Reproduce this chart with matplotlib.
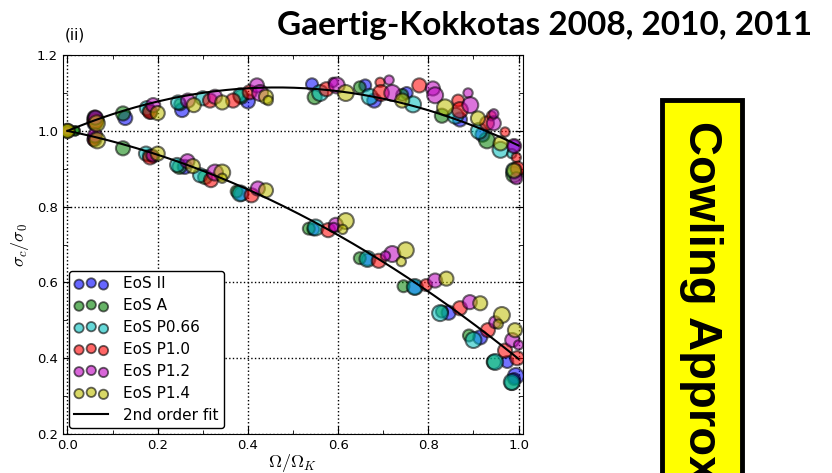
import numpy as np
import matplotlib.pyplot as plt
from matplotlib.patches import Rectangle
from matplotlib.ticker import MultipleLocator

plt.rcParams['mathtext.fontset'] = 'cm'

# (Omega/Omega_K, sigma_c/sigma_0, M) -- co-rotating (lower) and counter-rotating (upper) branches
eos_II_lo = [(0.0, 1.0, 1.4), (0.06, 0.978, 1.6), (0.19, 0.932, 1.4), (0.26, 0.905, 1.6), (0.385, 0.834, 1.6),
             (0.545, 0.74, 1.4), (0.665, 0.66, 1.4), (0.77, 0.587, 1.6), (0.845, 0.52, 1.6), (0.915, 0.455, 1.6),
             (0.975, 0.39, 1.4), (0.994, 0.353, 1.8), (0.99, 0.345, 1.4)]
eos_II_up = [(0.06, 1.02, 1.6), (0.128, 1.034, 1.6), (0.185, 1.048, 1.4), (0.254, 1.055, 1.6), (0.4, 1.078, 1.6),
             (0.542, 1.123, 1.4), (0.66, 1.12, 1.4), (0.68, 1.08, 1.6), (0.752, 1.10, 1.4), (0.87, 1.03, 1.6),
             (0.92, 0.99, 1.6), (0.99, 0.96, 1.4)]

eos_A_lo = [(0.017, 1.0, 1.2), (0.06, 0.982, 1.4), (0.123, 0.954, 1.6), (0.18, 0.935, 1.4), (0.248, 0.905, 1.6),
            (0.305, 0.878, 1.6), (0.375, 0.84, 1.4), (0.535, 0.742, 1.4), (0.648, 0.664, 1.4), (0.745, 0.59, 1.4),
            (0.83, 0.523, 1.4), (0.89, 0.46, 1.4), (0.945, 0.39, 1.6), (0.985, 0.335, 1.6)]
eos_A_up = [(0.017, 1.0, 1.2), (0.06, 1.035, 1.6), (0.123, 1.046, 1.6), (0.18, 1.052, 1.4), (0.25, 1.07, 1.4),
            (0.385, 1.09, 1.6), (0.548, 1.089, 1.6), (0.648, 1.115, 1.4), (0.742, 1.095, 1.4), (0.83, 1.04, 1.6),
            (0.93, 0.975, 1.8), (0.99, 0.885, 1.8)]

eos_P066_lo = [(0.0, 1.0, 1.2), (0.174, 0.94, 1.6), (0.243, 0.91, 1.6), (0.294, 0.883, 1.6), (0.383, 0.835, 1.8),
               (0.55, 0.745, 1.8), (0.665, 0.662, 1.8), (0.77, 0.588, 1.8), (0.826, 0.519, 1.8), (0.9, 0.448, 1.8),
               (0.948, 0.39, 1.8), (0.985, 0.337, 1.8)]
eos_P066_up = [(0.062, 1.03, 1.8), (0.176, 1.06, 1.6), (0.245, 1.075, 1.6), (0.30, 1.086, 1.6), (0.383, 1.094, 1.6),
               (0.56, 1.10, 1.8), (0.67, 1.09, 1.8), (0.766, 1.07, 1.8), (0.86, 1.04, 1.8), (0.912, 1.0, 1.8),
               (0.96, 0.95, 1.8), (0.985, 0.94, 1.2), (0.99, 0.895, 1.8)]

eos_P10_lo = [(0.0, 1.0, 1.2), (0.058, 0.976, 1.4), (0.183, 0.93, 1.6), (0.318, 0.87, 1.6), (0.408, 0.83, 1.6),
              (0.578, 0.738, 1.6), (0.69, 0.657, 1.6), (0.795, 0.593, 1.4), (0.87, 0.532, 1.6), (0.932, 0.474, 1.6),
              (0.97, 0.42, 1.6), (0.997, 0.40, 1.6)]
eos_P10_up = [(0.062, 1.025, 1.8), (0.183, 1.05, 1.6), (0.316, 1.08, 1.6), (0.367, 1.08, 1.6), (0.404, 1.102, 1.6),
              (0.574, 1.11, 1.6), (0.693, 1.128, 1.2), (0.695, 1.10, 1.8), (0.78, 1.12, 1.6), (0.866, 1.08, 1.4),
              (0.87, 1.055, 1.8), (0.93, 1.02, 1.6), (0.94, 1.04, 1.2), (0.97, 0.997, 1.2), (0.995, 0.93, 1.2),
              (0.998, 0.9, 1.6)]

eos_P12_lo = [(0.0, 1.0, 1.2), (0.061, 0.988, 1.6), (0.188, 0.935, 1.4), (0.266, 0.92, 1.6), (0.327, 0.89, 1.8),
              (0.422, 0.848, 1.6), (0.595, 0.752, 1.6), (0.59, 0.745, 1.2), (0.72, 0.675, 1.8), (0.705, 0.67, 1.2),
              (0.815, 0.605, 1.6), (0.892, 0.548, 1.6), (0.948, 0.495, 1.4), (0.986, 0.448, 1.6), (1.0, 0.435, 1.2)]
eos_P12_up = [(0.062, 1.035, 1.6), (0.19, 1.068, 1.6), (0.267, 1.08, 1.6), (0.327, 1.09, 1.6), (0.42, 1.12, 1.6),
              (0.427, 1.10, 1.8), (0.589, 1.128, 1.2), (0.597, 1.12, 1.8), (0.713, 1.134, 1.2), (0.72, 1.10, 1.8),
              (0.81, 1.112, 1.6), (0.815, 1.094, 1.8), (0.888, 1.10, 1.2), (0.893, 1.068, 1.8), (0.945, 1.02, 1.6),
              (0.945, 1.045, 1.2), (0.99, 0.96, 1.6), (0.995, 0.875, 1.4)]

eos_P14_lo = [(0.0, 1.0, 1.6), (0.066, 0.975, 1.8), (0.2, 0.94, 1.6), (0.278, 0.907, 1.6), (0.343, 0.89, 1.8),
              (0.343, 0.875, 1.2), (0.44, 0.843, 1.6), (0.617, 0.762, 1.8), (0.61, 0.74, 1.2), (0.75, 0.685, 1.8),
              (0.74, 0.655, 1.2), (0.84, 0.61, 1.6), (0.915, 0.545, 1.6), (0.963, 0.514, 1.8), (0.955, 0.49, 1.2),
              (0.992, 0.474, 1.6)]
eos_P14_up = [(0.0, 1.0, 1.6), (0.065, 1.02, 1.8), (0.2, 1.047, 1.6), (0.28, 1.068, 1.6), (0.343, 1.075, 1.6),
              (0.44, 1.09, 1.6), (0.445, 1.08, 1.2), (0.617, 1.10, 1.8), (0.742, 1.08, 1.6), (0.837, 1.062, 1.8),
              (0.91, 1.033, 1.6), (0.96, 0.967, 1.6), (0.99, 0.895, 1.6)]

labels = ['EoS II', 'EoS A', 'EoS P0.66', 'EoS P1.0', 'EoS P1.2', 'EoS P1.4']
colors = ['b', 'g', 'c', 'r', 'm', 'y']
lower = [eos_II_lo, eos_A_lo, eos_P066_lo, eos_P10_lo, eos_P12_lo, eos_P14_lo]
upper = [eos_II_up, eos_A_up, eos_P066_up, eos_P10_up, eos_P12_up, eos_P14_up]

fig = plt.figure(figsize=(8.32, 4.73), dpi=100)
ax = fig.add_axes([0.0757, 0.0825, 0.553, 0.801])

for lab, col, lo, up in zip(labels, colors, lower, upper):
    for branch in (lo, up):
        d = np.array(branch)
        ax.scatter(d[:, 0], d[:, 1], s=45 + (d[:, 2] - 1.2) * 145, c=col, alpha=0.55,
                   edgecolors='k', linewidths=1.5, zorder=3)
    ax.scatter([], [], s=45, c=col, alpha=0.6, edgecolors='k', linewidths=1.3, label=lab)

# 2nd order fit through (0, 1)
xf = np.linspace(0, 1, 200)
for branch_set in (lower, upper):
    d = np.vstack([np.array(b) for b in branch_set])
    A = np.column_stack([d[:, 0], d[:, 0] ** 2])
    coef = np.linalg.lstsq(A, d[:, 1] - 1.0, rcond=None)[0]
    line, = ax.plot(xf, 1 + coef[0] * xf + coef[1] * xf ** 2, 'k-', lw=1.5, zorder=4)
line.set_label('2nd order fit')

ax.set_xlim(-0.01, 1.01)
ax.set_ylim(0.2, 1.2)
ax.xaxis.set_major_locator(MultipleLocator(0.2))
ax.xaxis.set_minor_locator(MultipleLocator(0.1))
ax.yaxis.set_major_locator(MultipleLocator(0.2))
ax.yaxis.set_minor_locator(MultipleLocator(0.1))
ax.tick_params(which='both', direction='in', top=True, right=True, labelsize=9.5)
ax.tick_params(which='major', length=6)
ax.tick_params(which='minor', length=3)
ax.grid(True, which='major', linestyle=':', color='k', lw=1)
ax.set_xlabel(r'$\Omega/\Omega_K$', fontsize=13, labelpad=0)
ax.set_ylabel(r'$\sigma_c/\sigma_0$', fontsize=13, labelpad=4)

ax.legend(loc='lower left', scatterpoints=3, fontsize=11, frameon=True, fancybox=True,
          edgecolor='k', framealpha=1, borderaxespad=0.4, handlelength=2.2,
          handletextpad=1.0, labelspacing=0.45, borderpad=0.35)

fig.text(65 / 832, 1 - 35 / 473, '(ii)', fontsize=11, va='center', ha='left')
fig.text(812 / 832, 1 - 35 / 473, 'Gaertig-Kokkotas 2008, 2010, 2011', fontsize=24,
         fontweight='bold', family='Lato', ha='right', va='baseline')

fig.patches.append(Rectangle((662 / 832, -0.1), 80 / 832, 0.1 + (473 - 100) / 473,
                             transform=fig.transFigure, facecolor='yellow', edgecolor='k', lw=3.5))
fig.text(701 / 832, 1 - 121 / 473, 'Cowling Approximation', rotation=-90, fontsize=34,
         fontweight='bold', family='Liberation Sans', ha='center', va='top')

fig.savefig('out.png', dpi=100)
